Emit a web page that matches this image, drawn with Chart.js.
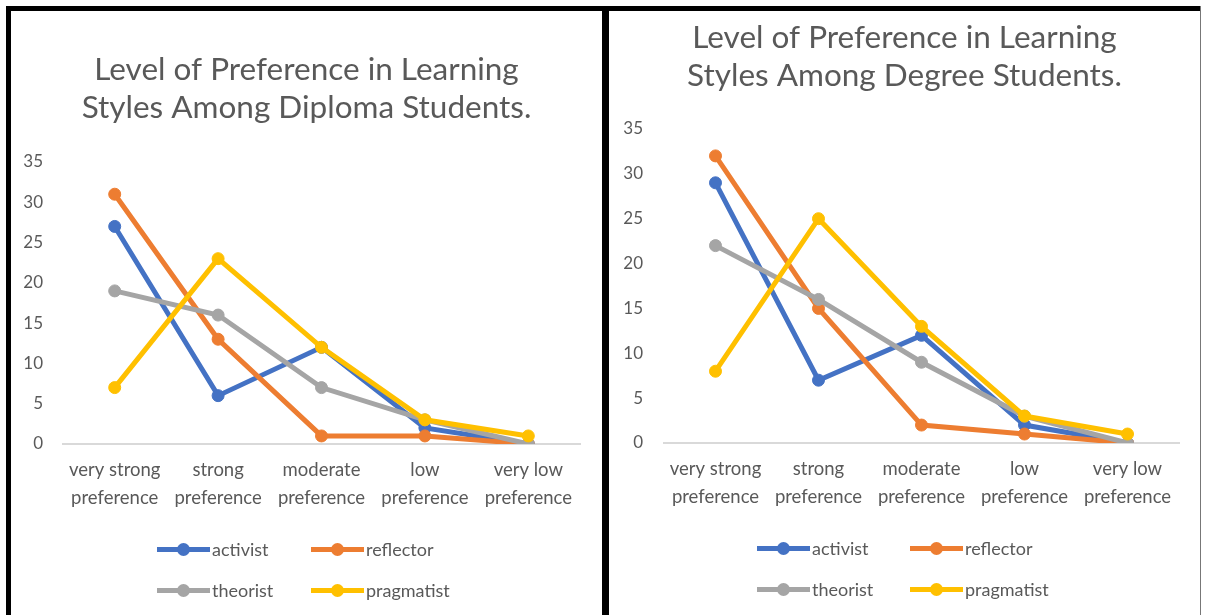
<!DOCTYPE html>
<html>
<head>
<meta charset="utf-8">
<title>Level of Preference in Learning Styles</title>
<script src="https://cdn.jsdelivr.net/npm/chart.js@4.4.1/dist/chart.umd.min.js"></script>
<style>
  body { margin: 0; background: #fff; width: 1205px; height: 615px; overflow: hidden; position: relative; font-family: Lato, "Open Sans", sans-serif; }
  .bar { position: absolute; background: #000; }
  .panel { position: absolute; top: 11px; width: 591px; height: 604px; background: #fff; }
  .panel canvas { position: absolute; left: 0; top: 0; }
  .item { position: absolute; display: flex; align-items: center; height: 24px; margin-top: -12px; font-size: 18px; color: #595959; }
  .swatch { position: relative; width: 53px; height: 5px; margin-right: 2px; }
  .swatch::after { content: ''; position: absolute; left: 20px; top: -4px; width: 13px; height: 13px; border-radius: 50%; background: inherit; }
</style>
</head>
<body>
<!-- cadre noir autour des deux graphiques -->
<div class="bar" style="left:6px;top:6px;width:1195px;height:5px"></div>
<div class="bar" style="left:6px;top:6px;width:5px;height:609px"></div>
<div class="bar" style="left:602px;top:6px;width:7px;height:609px"></div>
<div class="bar" style="left:1200px;top:6px;width:1px;height:609px;background:#777"></div>

<div class="panel" id="diplomaPanel" style="left:11px"><canvas id="diplomaChart" width="591" height="604"></canvas></div>
<div class="panel" id="degreePanel" style="left:609px"><canvas id="degreeChart" width="591" height="604"></canvas></div>

<script>
// Catégories de l'axe X (deux lignes par étiquette)
const categories = [
    ['very strong', 'preference'],
    ['strong', 'preference'],
    ['moderate', 'preference'],
    ['low', 'preference'],
    ['very low', 'preference']
];

const seriesNames = ['activist', 'reflector', 'theorist', 'pragmatist'];
const seriesColors = ['#4472C4', '#ED7D31', '#A5A5A5', '#FFC000'];

// Étudiants diplôme
const diplomaActivist = [27, 6, 12, 2, 0];
const diplomaReflector = [31, 13, 1, 1, 0];
const diplomaTheorist = [19, 16, 7, 3, 0];
const diplomaPragmatist = [7, 23, 12, 3, 1];

// Étudiants licence (degree)
const degreeActivist = [29, 7, 12, 2, 0];
const degreeReflector = [32, 15, 2, 1, 0];
const degreeTheorist = [22, 16, 9, 3, 0];
const degreePragmatist = [8, 25, 13, 3, 1];

const yMin = 0;
const yMax = 35;
const yStep = 5;

const textColor = '#595959';
const fontFamily = 'Lato, "Open Sans", sans-serif';

const buildChart = (canvasId, titleLines, series, layout) => {
    const ctx = document.getElementById(canvasId).getContext('2d');
    return new Chart(ctx, {
        type: 'line',
        data: {
            labels: categories,
            datasets: series.map((values, i) => ({
                label: seriesNames[i],
                data: values,
                borderColor: seriesColors[i],
                backgroundColor: seriesColors[i],
                pointBackgroundColor: seriesColors[i],
                pointBorderColor: seriesColors[i],
                borderWidth: 5,
                pointRadius: 6,
                pointBorderWidth: 1,
                tension: 0,
                order: series.length - 1 - i // la dernière série passe au-dessus, comme dans Excel
            }))
        },
        options: {
            responsive: false,
            animation: false,
            layout: {
                padding: { left: 0, right: 0, top: 0, bottom: layout.bottom }
            },
            scales: {
                x: {
                    offset: true,
                    grid: { display: false, drawTicks: false, offset: true },
                    border: { display: true, color: '#D9D9D9', width: 2 },
                    ticks: {
                        color: textColor,
                        padding: 12,
                        maxRotation: 0,
                        autoSkip: false,
                        font: { family: fontFamily, size: 18.5, lineHeight: 1.52 }
                    },
                    afterFit: (scale) => { scale.height = 70; }
                },
                y: {
                    min: yMin,
                    max: yMax,
                    grid: { display: false, drawTicks: false },
                    border: { display: false },
                    ticks: {
                        stepSize: yStep,
                        color: textColor,
                        padding: layout.tickPad,
                        font: { family: fontFamily, size: 17 }
                    },
                    afterFit: (scale) => { scale.width = layout.left; }
                },
                // axe vide à droite : garde la marge sans décentrer le titre
                yRight: {
                    position: 'right',
                    min: yMin,
                    max: yMax,
                    grid: { display: false, drawTicks: false },
                    border: { display: false },
                    ticks: { display: false },
                    afterFit: (scale) => { scale.width = layout.right; }
                }
            },
            plugins: {
                legend: { display: false },
                tooltip: { enabled: false },
                title: {
                    display: true,
                    text: titleLines,
                    color: textColor,
                    padding: { top: layout.titleTop, bottom: layout.titleBottom },
                    font: { family: fontFamily, size: 31.5, weight: 'normal', lineHeight: 1.206 }
                }
            }
        }
    });
};

// Légende HTML en deux colonnes (comme Excel)
const buildLegend = (panelId, cols, rows) => {
    const panel = document.getElementById(panelId);
    seriesNames.forEach((name, i) => {
        const item = document.createElement('div');
        item.className = 'item';
        item.style.left = cols[i % 2] + 'px';
        item.style.top = rows[Math.floor(i / 2)] + 'px';
        const swatch = document.createElement('span');
        swatch.className = 'swatch';
        swatch.style.background = seriesColors[i];
        item.appendChild(swatch);
        item.appendChild(document.createTextNode(name));
        panel.appendChild(item);
    });
};

buildChart('diplomaChart',
    ['Level of Preference in Learning', 'Styles Among Diploma Students.'],
    [diplomaActivist, diplomaReflector, diplomaTheorist, diplomaPragmatist],
    { left: 52, right: 22, bottom: 101, tickPad: 20, titleTop: 40, titleBottom: 35 });

buildChart('degreeChart',
    ['Level of Preference in Learning', 'Styles Among Degree Students.'],
    [degreeActivist, degreeReflector, degreeTheorist, degreePragmatist],
    { left: 55, right: 21, bottom: 102, tickPad: 21, titleTop: 8, titleBottom: 34 });

buildLegend('diplomaPanel', [146, 300], [538, 579]);
buildLegend('degreePanel', [148, 301], [537, 578]);
</script>
</body>
</html>
